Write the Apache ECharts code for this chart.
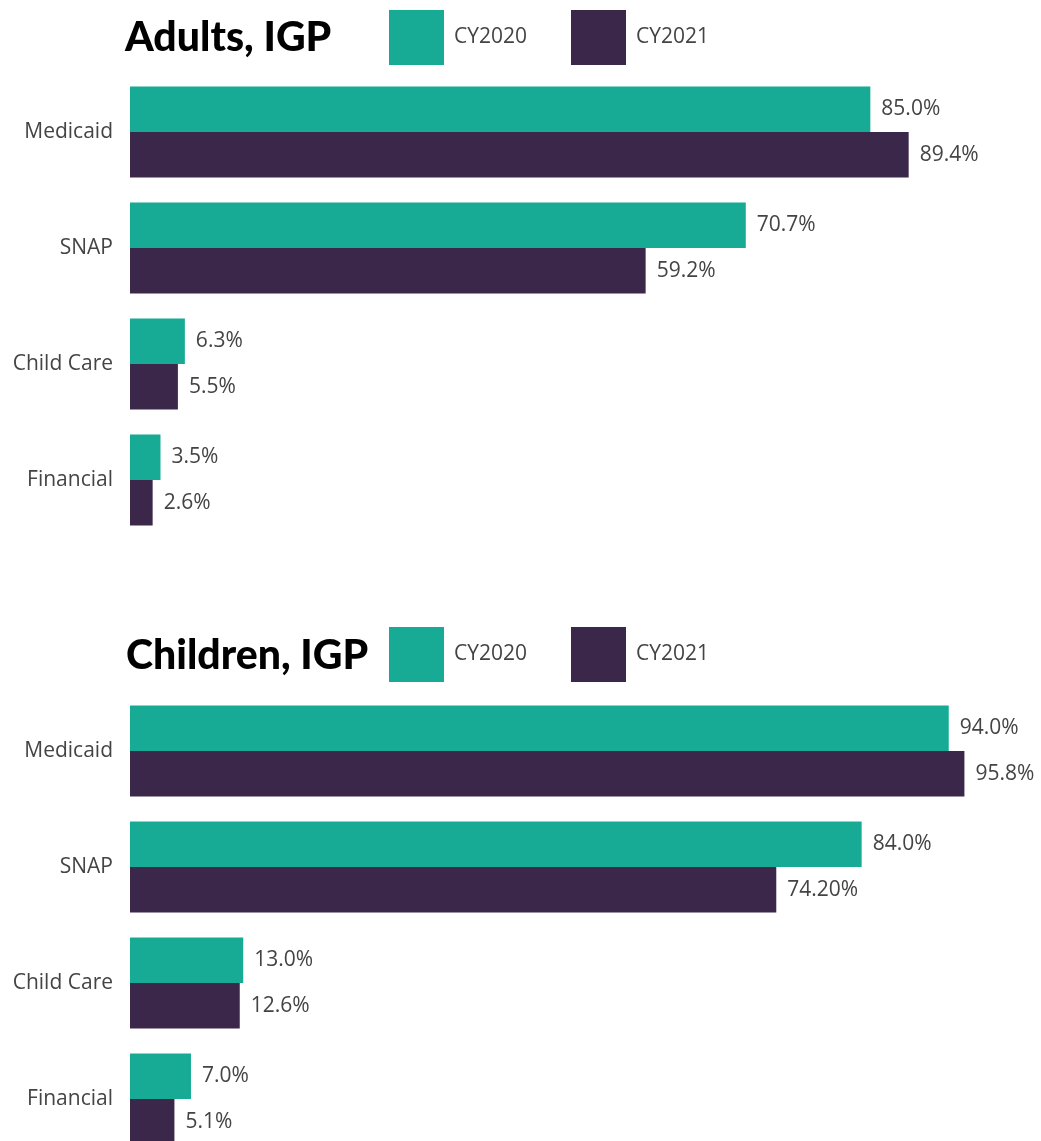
<!DOCTYPE html>
<html><head><meta charset="utf-8">
<script src="https://cdn.jsdelivr.net/npm/echarts@6/dist/echarts.min.js"></script>
<style>html,body{margin:0;padding:0;background:#fff}#c{width:1041px;height:1141px}</style>
</head><body><div id="c"></div>
<script>
const categories = ['Medicaid', 'SNAP', 'Child Care', 'Financial'];
const seriesNames = ['CY2020', 'CY2021'];
const adults2020 = [85.0, 70.7, 6.3, 3.5];
const adults2021 = [89.4, 59.2, 5.5, 2.6];
const children2020 = [94.0, 84.0, 13.0, 7.0];
const children2021 = [95.8, 74.2, 12.6, 5.1];
const adultsLabels2020 = ['85.0%', '70.7%', '6.3%', '3.5%'];
const adultsLabels2021 = ['89.4%', '59.2%', '5.5%', '2.6%'];
const childrenLabels2020 = ['94.0%', '84.0%', '13.0%', '7.0%'];
const childrenLabels2021 = ['95.8%', '74.20%', '12.6%', '5.1%'];

const COLORS = ['#17AB96', '#3B2749'];
const FONT = 'Open Sans';
const FS = 21;
const chart = echarts.init(document.getElementById('c'));

function bar(name, data, labels, idx, color) {
  return {
    type: 'bar', name, xAxisIndex: idx, yAxisIndex: idx,
    data, barWidth: 45.5, barGap: '0%',
    itemStyle: { color },
    label: { show: true, position: 'right', distance: 11, fontFamily: FONT, fontSize: FS, color: '#444',
      formatter: p => labels[p.dataIndex] }
  };
}
function xAx(i) { return { gridIndex: i, type: 'value', min: 0, max: 100, show: false }; }
function yAx(i) {
  return { gridIndex: i, type: 'category', data: categories, inverse: true,
    axisLine: { show: false }, axisTick: { show: false }, splitLine: { show: false },
    axisLabel: { fontFamily: FONT, fontSize: FS, color: '#444', margin: 17 } };
}
function legend(top) {
  return { top, left: 389, padding: 0, itemWidth: 55, itemHeight: 55, itemGap: 44, icon: 'rect',
    data: seriesNames, selectedMode: false,
    textStyle: { fontFamily: FONT, fontSize: FS, color: '#444', padding: [0, 0, 0, 5] } };
}
const titleStyle = { fontFamily: 'Lato', fontWeight: 900, fontSize: 41, color: '#000' };
chart.setOption({
  animation: false,
  color: COLORS,
  title: [
    { text: 'Adults, IGP', left: 125, top: 17, padding: 0, textStyle: titleStyle },
    { text: 'Children, IGP', left: 126, top: 635, padding: 0, textStyle: titleStyle }
  ],
  legend: [legend(10), legend(627)],
  grid: [
    { left: 130, width: 871, top: 74, height: 464, outerBoundsMode: 'none', containLabel: false },
    { left: 130, width: 871, top: 693, height: 464, outerBoundsMode: 'none', containLabel: false }
  ],
  xAxis: [xAx(0), xAx(1)],
  yAxis: [yAx(0), yAx(1)],
  series: [
    bar(seriesNames[0], adults2020, adultsLabels2020, 0, COLORS[0]),
    bar(seriesNames[1], adults2021, adultsLabels2021, 0, COLORS[1]),
    bar(seriesNames[0], children2020, childrenLabels2020, 1, COLORS[0]),
    bar(seriesNames[1], children2021, childrenLabels2021, 1, COLORS[1])
  ]
});
</script></body></html>
